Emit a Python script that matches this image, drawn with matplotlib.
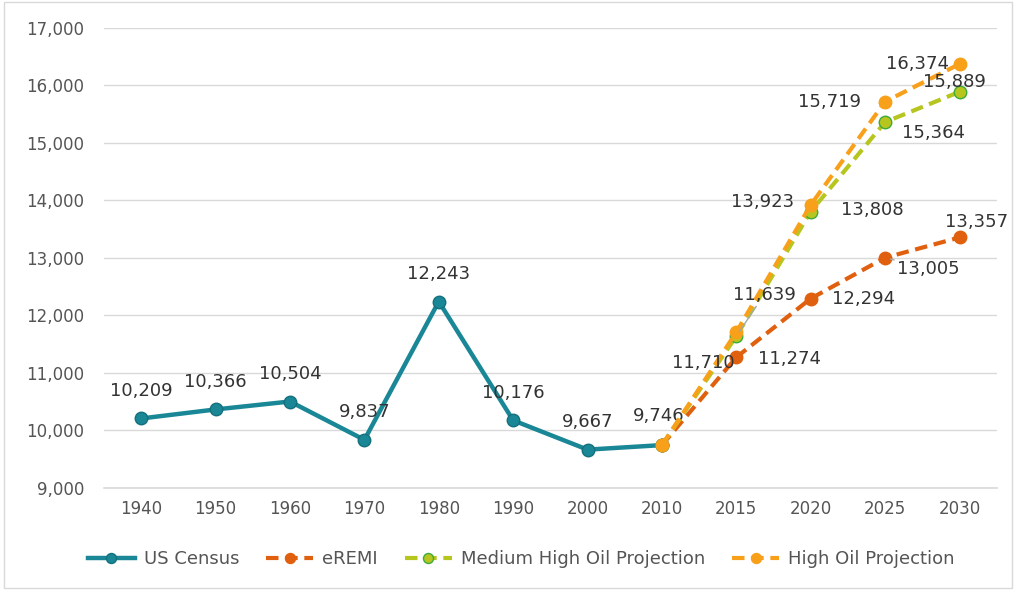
import numpy as np
import matplotlib
matplotlib.use('Agg')
import matplotlib.pyplot as plt
from matplotlib.patches import Rectangle

# data
years = ['1940', '1950', '1960', '1970', '1980', '1990', '2000', '2010',
         '2015', '2020', '2025', '2030']
census = [10209, 10366, 10504, 9837, 12243, 10176, 9667, 9746]
eremi = [9746, 11274, 12294, 13005, 13357]
medium = [9746, 11639, 13808, 15364, 15889]
high = [9746, 11710, 13923, 15719, 16374]

x_all = np.arange(len(years))
x_census = x_all[:8]
x_proj = x_all[7:]

c_census = '#1A8796'
c_eremi = '#E0600F'
c_medium = '#B7C61F'
c_medium_edge = '#3DAA3A'
c_high = '#F8A01A'
txt = '#333333'

fig = plt.figure(figsize=(10.16, 5.92), dpi=100)
ax = fig.add_axes([0.1024, 0.1757, 0.8786, 0.777])

ax.plot(x_census, census, color=c_census, lw=3.2, marker='o', ms=9,
        mfc=c_census, mec='#14707C', zorder=3, label='US Census')
ax.plot(x_proj, eremi, color=c_eremi, lw=3, ls=(0, (3, 1.6)), marker='o', ms=9,
        mfc=c_eremi, mec=c_eremi, zorder=4, label='eREMI')
ax.plot(x_proj, medium, color=c_medium, lw=3, ls=(0, (3, 1.6)), marker='o', ms=9,
        mfc=c_medium, mec=c_medium_edge, mew=1, zorder=5,
        label='Medium High Oil Projection')
ax.plot(x_proj, high, color=c_high, lw=3, ls=(0, (3, 1.6)), marker='o', ms=9,
        mfc=c_high, mec=c_high, zorder=6, label='High Oil Projection')

ax.set_xlim(-0.5, 11.5)
ax.set_ylim(9000, 17000)
ax.set_yticks(range(9000, 17001, 1000))
ax.yaxis.set_major_formatter(matplotlib.ticker.FuncFormatter(lambda v, p: f'{int(v):,}'))
ax.set_xticks(x_all)
ax.set_xticklabels(years)
ax.tick_params(length=0, labelsize=12, labelcolor='#555555', pad=9)
ax.tick_params(axis='y', pad=14)
ax.grid(axis='y', color='#D9D9D9', lw=1)
ax.axhline(9000, color='#D9D9D9', lw=1.2, clip_on=False, zorder=0)
ax.set_axisbelow(True)
for s in ax.spines.values():
    s.set_visible(False)

fs = 13
# census labels above points
for i, v in enumerate(census[:7]):
    ax.annotate(f'{v:,}', (i, v), xytext=(0, 20), textcoords='offset points',
                ha='center', va='center', fontsize=fs, color=txt)
ax.annotate('9,746', (7, 9746), xytext=(-2, 21), textcoords='offset points',
            ha='center', va='center', fontsize=fs, color=txt)

# projection labels
def lab(x, y, s, dx, dy, ha='center', leader=False):
    kw = {}
    if leader:
        kw['arrowprops'] = dict(arrowstyle='-', color='#A6A6A6', lw=1,
                                shrinkA=0, shrinkB=4)
    ax.annotate(s, (x, y), xytext=(dx, dy), textcoords='offset points',
                ha=ha, va='center', fontsize=fs, color=txt, zorder=7, **kw)

lab(8, high[1], '11,710', -24, -22, ha='center')
lab(8, medium[1], '11,639', 20, 30, ha='center', leader=True)
lab(8, eremi[1], '11,274', 38, -1, ha='center')
lab(9, high[2], '13,923', -35, 2, ha='center')
lab(9, medium[2], '13,808', 44, 1, ha='center')
lab(9, eremi[2], '12,294', 38, 0, ha='center')
lab(10, high[3], '15,719', -40, 0, ha='center')
lab(10, medium[3], '15,364', 35, -8, ha='center')
lab(10, eremi[3], '13,005', 31, -8, ha='center', leader=True)
lab(11, high[4], '16,374', -30, 0, ha='center')
lab(11, medium[4], '15,889', -4, 7, ha='center')
lab(11, eremi[4], '13,357', 12, 11, ha='center')

leg = fig.legend(loc='center', bbox_to_anchor=(0.513, 0.055), ncol=4, frameon=False,
                 fontsize=13, handlelength=2.6, columnspacing=1.5, handletextpad=0.5,
                 markerscale=0.8)
for t in leg.get_texts():
    t.set_color('#555555')

fig.patches.append(Rectangle((0.004, 0.006), 0.992, 0.99, transform=fig.transFigure,
                             fill=False, ec='#D9D9D9', lw=1))

fig.savefig('out.png', dpi=100)
